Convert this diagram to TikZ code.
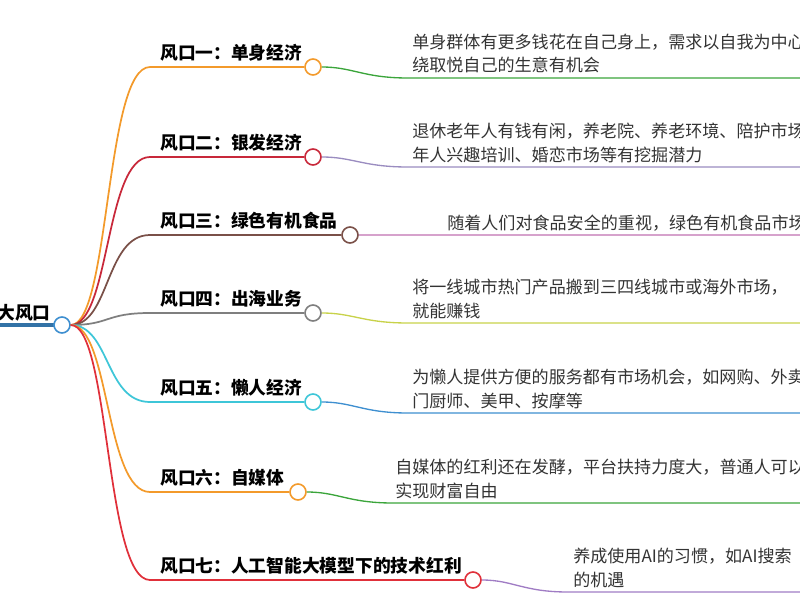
\documentclass[tikz,border=0pt]{standalone}
\usepackage{fontspec}
\setmainfont{Noto Sans CJK SC}
\definecolor{cOrange}{HTML}{F39A2B}
\definecolor{cRed}{HTML}{C8283A}
\definecolor{cBrown}{HTML}{7A5048}
\definecolor{cGrey}{HTML}{7F7F7F}
\definecolor{cCyan}{HTML}{3EC6D8}
\definecolor{cRed2}{HTML}{E0303A}
\definecolor{cGreen}{HTML}{3BA53B}
\definecolor{cPurple}{HTML}{9A8CC0}
\definecolor{cPink}{HTML}{D6A2CC}
\definecolor{cLime}{HTML}{C8D24A}
\definecolor{cBlue}{HTML}{3E8FD0}
\definecolor{cViolet}{HTML}{A07CC4}
\tikzset{
  knob/.style={circle,draw=#1,fill=white,line width=1.2pt,inner sep=0pt,minimum size=12pt},
  topic/.style={anchor=base west,font=\fontsize{13.3}{15}\selectfont\bfseries,inner sep=0pt},
  desc/.style={anchor=north west,align=left,font=\fontsize{12.8}{17.5}\selectfont,text=black!80,inner sep=0pt},
  branch/.style={line width=1.3pt,draw=#1},
}
\begin{document}
\begin{tikzpicture}[x=0.75pt,y=-0.75pt]
  \useasboundingbox (0,0) rectangle (800,600);
  \clip (0,0) rectangle (800,600);
  % 中心主题
  \draw[line width=3pt,draw=cBlue!80!black] (0,325) -- (56,325);
  \node[anchor=base east,font=\fontsize{13.3}{15}\selectfont\bfseries,inner sep=0pt] (root) at (51,319) {大风口};
  \node[knob=cBlue] (hub) at (62,325) {};

  % 七个风口
  \foreach \n/\y/\cx/\col/\dcol/\dy/\dx/\topic/\text in {
    1/67/313/cOrange/cGreen/78/412/{风口一：单身经济}/{单身群体有更多钱花在自己身上，需求以自我为中心\\绕取悦自己的生意有机会},
    2/157/313/cRed/cPurple/167/412/{风口二：银发经济}/{退休老年人有钱有闲，养老院、养老环境、陪护市场\\年人兴趣培训、婚恋市场等有挖掘潜力},
    3/235/350/cBrown/cPink/235/447/{风口三：绿色有机食品}/{随着人们对食品安全的重视，绿色有机食品市场},
    4/313/313/cGrey/cLime/323/412/{风口四：出海业务}/{将一线城市热门产品搬到三四线城市或海外市场，\\就能赚钱},
    5/402/313/cCyan/cBlue/413/412/{风口五：懒人经济}/{为懒人提供方便的服务都有市场机会，如网购、外卖\\门厨师、美甲、按摩等},
    6/492/298/cOrange/cGreen/503/395/{风口六：自媒体}/{自媒体的红利还在发酵，平台扶持力度大，普通人可以\\实现财富自由},
    7/580/473/cRed2/cViolet/592/573/{风口七：人工智能大模型下的技术红利}/{养成使用AI的习惯，如AI搜索\\的机遇}} {
    \node[knob=\col] (k\n) at (\cx,\y) {};
    \node[topic] (t\n) at (160,\y-8) {\topic};
    \draw[branch=\col] (hub.east) .. controls (110,325) and (105,\y) .. (150,\y) -- (k\n.west);
    \coordinate (e\n) at (800,\dy);
    \draw[line width=1pt,draw=\dcol] (k\n.east) .. controls (\cx+40,\y) and (\cx+50,\dy) .. (\cx+95,\dy) -- (e\n);
    \ifnum\n=3
      \node[desc] (d\n) at (\dx,\dy-20) {\text};
    \else
      \node[desc] (d\n) at (\dx,\dy-44) {\text};
    \fi
  }
\end{tikzpicture}
\end{document}
